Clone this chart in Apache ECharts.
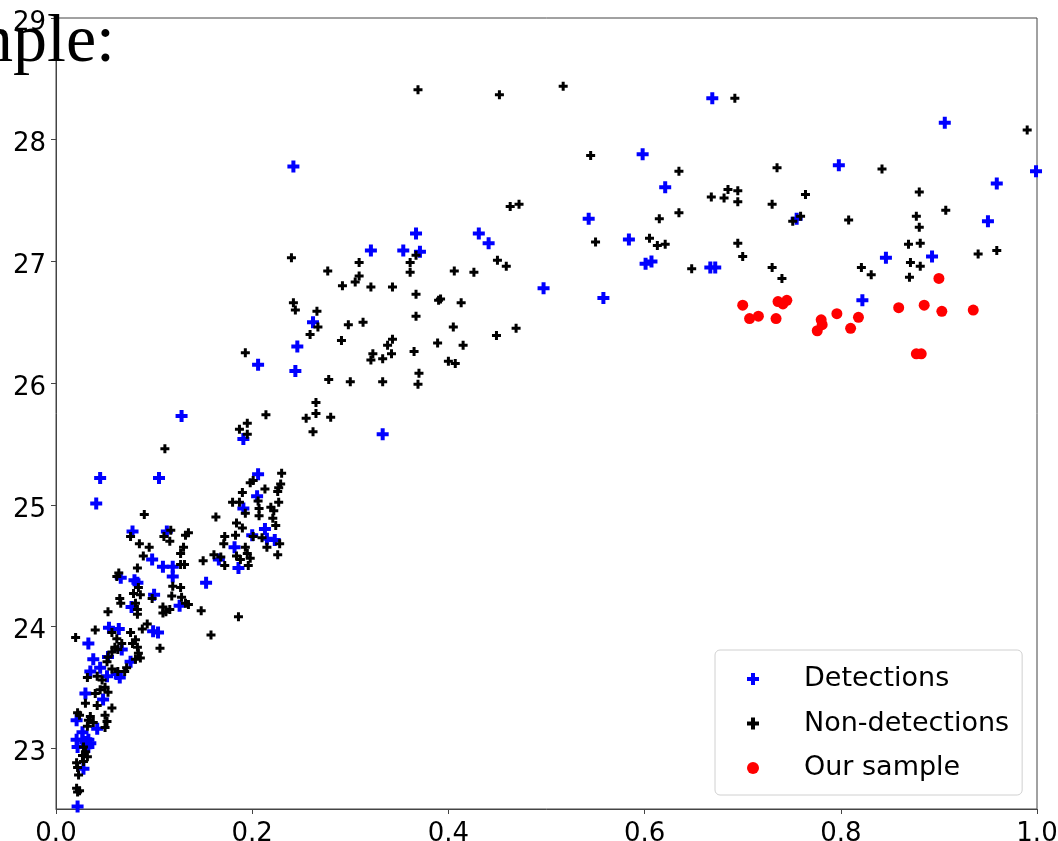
<!DOCTYPE html>
<html>
<head>
<meta charset="utf-8">
<script src="https://cdn.jsdelivr.net/npm/echarts@6/dist/echarts.min.js"></script>
<style>
  html, body { margin: 0; padding: 0; background: #fff; }
  #main { width: 1058px; height: 841px; }
</style>
</head>
<body>
<div id="main"></div>
<script>
// axis ticks
var xTicks = [0, 0.2, 0.4, 0.6, 0.8, 1.0];
var yTicks = [23, 24, 25, 26, 27, 28, 29];

// [x, y]
var detections = [
  [0.669, 28.34], [0.906, 28.14], [0.798, 27.79], [0.999, 27.74], [0.959, 27.64],
  [0.755, 27.35], [0.950, 27.33], [0.667, 26.95], [0.672, 26.95], [0.846, 27.03],
  [0.893, 27.04], [0.822, 26.68],
  [0.598, 27.88], [0.621, 27.61], [0.543, 27.35], [0.431, 27.23], [0.441, 27.15],
  [0.584, 27.18], [0.601, 26.98], [0.607, 27.00], [0.497, 26.78], [0.558, 26.70],
  [0.242, 27.78], [0.367, 27.23], [0.321, 27.09], [0.354, 27.09], [0.371, 27.08],
  [0.262, 26.50], [0.246, 26.30], [0.206, 26.15], [0.244, 26.10], [0.333, 25.58],
  [0.191, 25.54],
  [0.128, 25.73], [0.045, 25.22], [0.105, 25.22], [0.041, 25.01], [0.206, 25.25],
  [0.205, 25.07], [0.191, 24.97], [0.213, 24.80], [0.215, 24.72], [0.223, 24.71],
  [0.200, 24.75], [0.182, 24.65], [0.166, 24.55], [0.186, 24.48], [0.153, 24.36],
  [0.078, 24.78], [0.113, 24.78], [0.098, 24.55], [0.109, 24.49], [0.119, 24.49],
  [0.119, 24.41], [0.066, 24.40], [0.080, 24.38], [0.083, 24.36], [0.100, 24.26],
  [0.126, 24.17], [0.077, 24.16], [0.033, 23.86], [0.054, 23.99], [0.064, 23.98],
  [0.099, 23.96], [0.104, 23.95], [0.067, 23.81], [0.076, 23.71], [0.038, 23.73],
  [0.053, 23.75], [0.045, 23.66], [0.035, 23.63], [0.052, 23.59], [0.062, 23.61],
  [0.065, 23.58], [0.030, 23.45], [0.048, 23.40], [0.021, 23.23], [0.042, 23.16],
  [0.027, 23.13], [0.021, 23.07], [0.027, 23.07], [0.030, 23.05], [0.033, 23.07],
  [0.022, 23.01], [0.033, 23.01], [0.035, 23.04], [0.028, 22.83], [0.022, 22.52]
];

var nonDetections = [
  [0.692, 28.34], [0.990, 28.08], [0.735, 27.77], [0.842, 27.76], [0.668, 27.53],
  [0.681, 27.52], [0.685, 27.59], [0.695, 27.58], [0.695, 27.49], [0.730, 27.47],
  [0.764, 27.55], [0.880, 27.57], [0.907, 27.42], [0.751, 27.33], [0.759, 27.37],
  [0.808, 27.34], [0.877, 27.37], [0.880, 27.28], [0.695, 27.15], [0.700, 27.04],
  [0.648, 26.94], [0.730, 26.95], [0.740, 26.86], [0.821, 26.95], [0.831, 26.89],
  [0.869, 27.14], [0.881, 27.15], [0.871, 26.99], [0.881, 26.96], [0.870, 26.87],
  [0.940, 27.06], [0.959, 27.09],
  [0.452, 28.37], [0.517, 28.44], [0.369, 28.41], [0.545, 27.87], [0.635, 27.74],
  [0.463, 27.45], [0.472, 27.47], [0.615, 27.35], [0.635, 27.40], [0.550, 27.16],
  [0.605, 27.19], [0.613, 27.13], [0.621, 27.14], [0.450, 27.01], [0.459, 26.96],
  [0.406, 26.92], [0.426, 26.91], [0.392, 26.69], [0.413, 26.66], [0.405, 26.46],
  [0.469, 26.45], [0.449, 26.39], [0.415, 26.31], [0.240, 27.03], [0.309, 26.99],
  [0.367, 27.05], [0.361, 26.99], [0.361, 26.91], [0.277, 26.92], [0.309, 26.88],
  [0.305, 26.83], [0.292, 26.80], [0.321, 26.79], [0.343, 26.79], [0.367, 26.73],
  [0.390, 26.68], [0.242, 26.66], [0.244, 26.60], [0.266, 26.59], [0.267, 26.46],
  [0.298, 26.48], [0.313, 26.50], [0.367, 26.55], [0.259, 26.40], [0.291, 26.35],
  [0.193, 26.25], [0.343, 26.36], [0.338, 26.31], [0.323, 26.24], [0.342, 26.24],
  [0.321, 26.19], [0.333, 26.20], [0.365, 26.26], [0.389, 26.33], [0.400, 26.18],
  [0.407, 26.16], [0.370, 26.08], [0.369, 25.99], [0.278, 26.03], [0.300, 26.01],
  [0.333, 26.01], [0.265, 25.84], [0.265, 25.75], [0.255, 25.71], [0.280, 25.72],
  [0.262, 25.60], [0.214, 25.74], [0.187, 25.62], [0.195, 25.67], [0.195, 25.58],
  [0.111, 25.46], [0.090, 24.92], [0.230, 25.26], [0.201, 25.20], [0.198, 25.18],
  [0.227, 25.14], [0.226, 25.11], [0.229, 25.17], [0.190, 25.10], [0.213, 25.13],
  [0.227, 25.02], [0.180, 25.02], [0.187, 25.02], [0.206, 25.03], [0.207, 24.97],
  [0.219, 24.98], [0.222, 24.95], [0.193, 24.93], [0.207, 24.91], [0.163, 24.90],
  [0.184, 24.85], [0.190, 24.81], [0.221, 24.89], [0.224, 24.83], [0.201, 24.74],
  [0.210, 24.73], [0.228, 24.68], [0.172, 24.74], [0.183, 24.75], [0.171, 24.68],
  [0.193, 24.65], [0.195, 24.60], [0.198, 24.56], [0.215, 24.65], [0.226, 24.59],
  [0.161, 24.59], [0.168, 24.57], [0.184, 24.58], [0.188, 24.55], [0.172, 24.50],
  [0.196, 24.50], [0.150, 24.54], [0.148, 24.13], [0.186, 24.08], [0.158, 23.93],
  [0.076, 24.74], [0.110, 24.74], [0.117, 24.79], [0.116, 24.70], [0.132, 24.75],
  [0.135, 24.77], [0.130, 24.65], [0.127, 24.60], [0.085, 24.68], [0.095, 24.65],
  [0.089, 24.58], [0.083, 24.48], [0.127, 24.51], [0.131, 24.51], [0.064, 24.44],
  [0.062, 24.41], [0.084, 24.32], [0.086, 24.26], [0.079, 24.27], [0.119, 24.33],
  [0.127, 24.32], [0.128, 24.24], [0.118, 24.25], [0.098, 24.23], [0.132, 24.19],
  [0.135, 24.18], [0.065, 24.23], [0.066, 24.19], [0.053, 24.12], [0.081, 24.19],
  [0.083, 24.14], [0.083, 24.10], [0.109, 24.16], [0.112, 24.12], [0.116, 24.14],
  [0.109, 24.11], [0.020, 23.91], [0.040, 23.97], [0.057, 23.95], [0.062, 23.90],
  [0.060, 23.83], [0.057, 23.79], [0.063, 23.81], [0.067, 23.86], [0.076, 23.95],
  [0.081, 23.89], [0.083, 23.83], [0.084, 23.78], [0.081, 23.73], [0.078, 23.86],
  [0.072, 23.66], [0.070, 23.63], [0.052, 23.71], [0.053, 23.75], [0.063, 23.63],
  [0.057, 23.65], [0.032, 23.58], [0.042, 23.59], [0.047, 23.56], [0.050, 23.50],
  [0.045, 23.48], [0.053, 23.46], [0.040, 23.45], [0.030, 23.37], [0.042, 23.35],
  [0.057, 23.33], [0.050, 23.27], [0.052, 23.22], [0.050, 23.17], [0.035, 23.26],
  [0.033, 23.23], [0.038, 23.21], [0.022, 23.29], [0.024, 23.27], [0.032, 23.18],
  [0.028, 23.01], [0.030, 22.97], [0.032, 22.93], [0.027, 22.94], [0.028, 22.89],
  [0.021, 22.88], [0.022, 22.84], [0.023, 22.78], [0.021, 22.67], [0.022, 22.64],
  [0.024, 22.65], [0.106, 23.82], [0.093, 24.02], [0.088, 23.98], [0.086, 23.74]
];

var ourSample = [
  [0.900, 26.86], [0.700, 26.64], [0.707, 26.53], [0.716, 26.55], [0.734, 26.53],
  [0.736, 26.67], [0.741, 26.65], [0.745, 26.68], [0.780, 26.52], [0.781, 26.48],
  [0.776, 26.43], [0.796, 26.57], [0.810, 26.45], [0.818, 26.54], [0.859, 26.62],
  [0.885, 26.64], [0.903, 26.59], [0.935, 26.60], [0.877, 26.24], [0.882, 26.24]
];

var plusPath = 'path://M2,0H4V2H6V4H4V6H2V4H0V2H2Z';
var tickFont = 'DejaVu Sans';

var myChart = echarts.init(document.getElementById('main'));
myChart.setOption({
  animation: false,
  grid: {
    left: 56, right: 21, top: 18, bottom: 32,
    outerBoundsMode: 'none',
    show: true, borderColor: '#444', borderWidth: 1, backgroundColor: 'transparent'
  },
  xAxis: {
    type: 'value', min: 0, max: 1, interval: 0.2,
    axisLine: { show: true, lineStyle: { color: '#444', width: 1 } },
    axisTick: { show: true, inside: false, length: 5, lineStyle: { color: '#444' } },
    axisLabel: {
      fontFamily: tickFont, fontSize: 26, color: '#000', margin: 12,
      customValues: xTicks,
      formatter: function (v) { return v.toFixed(1); }
    },
    splitLine: { show: false }
  },
  yAxis: {
    type: 'value', min: 22.5, max: 29,
    axisLine: { show: true, lineStyle: { color: '#444', width: 1 } },
    axisTick: { show: true, length: 5, lineStyle: { color: '#444' }, customValues: yTicks },
    axisLabel: {
      fontFamily: tickFont, fontSize: 26, color: '#000', margin: 10,
      verticalAlign: 'top', lineHeight: 10,
      customValues: yTicks
    },
    splitLine: { show: false }
  },
  legend: {
    orient: 'vertical',
    left: 715, top: 650,
    padding: [14, 13, 12, 32],
    itemWidth: 52, itemHeight: 12, itemGap: 14.5,
    backgroundColor: '#fff',
    borderColor: '#d0d0d0', borderWidth: 1, borderRadius: 5,
    textStyle: { fontFamily: tickFont, fontSize: 27, color: '#000', lineHeight: 30, padding: [0, 0, 0, 20] },
    data: [
      { name: 'Detections', icon: plusPath },
      { name: 'Non-detections', icon: plusPath },
      { name: 'Our sample', icon: 'circle' }
    ]
  },
  graphic: [{
    type: 'text', x: 115, y: 43, z: 100,
    style: {
      text: 'Sample:', fill: '#000',
      font: '68px "Liberation Serif", "Times New Roman", serif',
      align: 'right', verticalAlign: 'middle'
    }
  }],
  series: [
    {
      name: 'Detections', type: 'scatter', data: detections,
      symbol: plusPath, symbolSize: 12,
      itemStyle: { color: '#0000ff', opacity: 1 }
    },
    {
      name: 'Non-detections', type: 'scatter', data: nonDetections,
      symbol: plusPath, symbolSize: 9,
      itemStyle: { color: '#000000', opacity: 1 }
    },
    {
      name: 'Our sample', type: 'scatter', data: ourSample,
      symbol: 'circle', symbolSize: 11,
      itemStyle: { color: '#ff0000', opacity: 1 }
    }
  ]
});
</script>
</body>
</html>
